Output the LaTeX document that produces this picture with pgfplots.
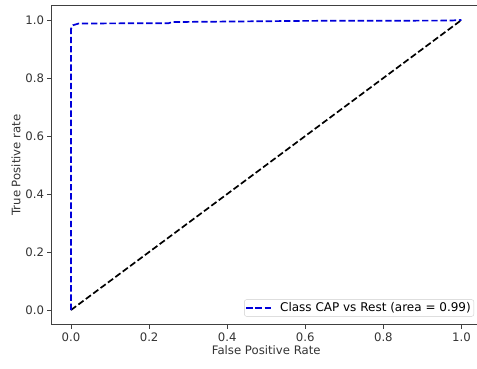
\documentclass[border=0pt]{standalone}
\usepackage{fontspec}
\setmainfont{DejaVu Sans}
\usepackage{pgfplots}
\pgfplotsset{compat=1.18}
\begin{document}
\begin{tikzpicture}
\path[use as bounding box, clip] (-51.5pt,-43.5pt) rectangle (425.5pt,324.5pt);
\begin{axis}[
  scale only axis,
  width=429.5pt, height=319pt,
  xmin=-0.05, xmax=1.05, ymin=-0.05, ymax=1.05,
  xtick={0,0.2,0.4,0.6,0.8,1.0},
  ytick={0,0.2,0.4,0.6,0.8,1.0},
  xticklabels={0.0,0.2,0.4,0.6,0.8,1.0},
  yticklabels={0.0,0.2,0.4,0.6,0.8,1.0},
  /pgf/number format/assume math mode=true,
  tick align=outside,
  xtick pos=bottom, ytick pos=left,
  major tick length=4pt,
  tick style={black!75, line width=0.9pt},
  axis line style={black!75, line width=0.9pt},
  ticklabel style={font=\fontsize{11.7}{13}\selectfont, text=black!80},
  xticklabel style={yshift=-1pt},
  label style={font=\fontsize{11.7}{13}\selectfont, text=black!80},
  xlabel={False Positive Rate},
  ylabel={True Positive rate},
  xlabel style={yshift=3pt},
  ylabel style={yshift=-2pt},
  legend style={at={(1,0)}, anchor=south east, xshift=-7pt, yshift=8pt,
    font=\fontsize{12}{13}\selectfont, draw=black!20, rounded corners=2pt,
    inner sep=1pt, row sep=0pt},
  legend cell align=left,
  legend image post style={},
  legend image code/.code={\draw[#1] (0pt,0pt) -- (25pt,0pt);},
]
\addplot[black, dashed, dash pattern=on 6.4pt off 2.8pt, line width=1.7pt, forget plot] coordinates {(0,0) (1,1)};
\addplot[blue!85!black, dash pattern=on 6.4pt off 2.8pt, line width=1.7pt] coordinates {
(0,0) (0,0.97) (0.005,0.982) (0.02,0.988) (0.25,0.989) (0.26,0.993) (0.6,0.997) (0.97,0.998) (1,1)};
\addlegendentry{\hspace{6pt}Class CAP vs Rest (area = 0.99)}
\end{axis}
\end{tikzpicture}
\end{document}
